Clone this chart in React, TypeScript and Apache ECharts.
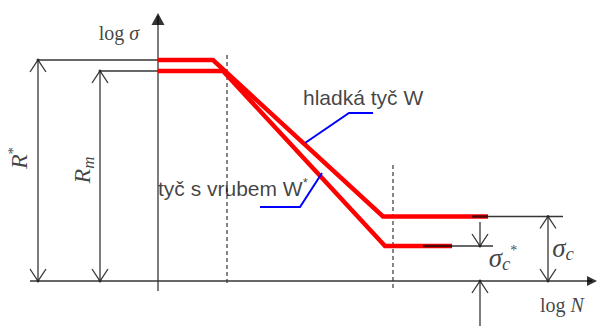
import { useEffect, useRef } from "react";
import * as echarts from "echarts";

// Diagram units: origin at the crossing of the log N and log σ axes.
// Stress levels (log σ)
const R_STAR = 22.1;
const R_M = 21.0;
const SIGMA_C = 6.45;
const SIGMA_C_STAR = 3.5;

// Smooth bar W: static strength R*, fatigue limit σc
const smoothLogN = [0, 5.5, 22.5, 33.0];
const smoothLogS = [R_STAR, R_STAR, SIGMA_C, SIGMA_C];
// Notched bar W*: static strength Rm, fatigue limit σc*
const notchedLogN = [0, 6.5, 22.7, 29.4];
const notchedLogS = [R_M, R_M, SIGMA_C_STAR, SIGMA_C_STAR];

// Positions (log N) of the helper lines
const kneeDashLogN = [6.9, 23.5];
const dimR = -12.0;
const dimRm = -5.8;
const dimSigmaC = 39.0;
const dimSigmaCStar = 32.2;

const curveLabels = ["hladká tyč W", "tyč s vrubem W"];

const X_MIN = -15.8;
const X_MAX = 44.0;
const Y_MIN = -4.5;
const Y_MAX = 28.1;

const INK = "#363636";
const RED = "#ff0000";
const BLUE = "#0000ff";

type Pt = [number, number];

function zip(xs: number[], ys: number[]): Pt[] {
  return xs.map((x, i) => [x, ys[i]] as Pt);
}

function poly(pts: Pt[], color: string, width: number, z = 2, type: any = "solid") {
  return {
    type: "line",
    data: pts,
    symbol: "none",
    silent: true,
    z,
    lineStyle: { color, width, type, cap: "butt", join: "miter" },
  };
}

// open V arrowhead, apex at (x, y); dir = 1 points up, -1 points down
function arrowHead(x: number, y: number, dir: number) {
  return poly(
    [
      [x - 0.8, y - dir * 1.2],
      [x, y],
      [x + 0.8, y - dir * 1.2],
    ],
    INK,
    1.3,
    3
  );
}

function textPoint(x: number, y: number, label: any) {
  return {
    value: [x, y],
    label: { show: true, position: "inside", ...label },
  };
}

export default function App() {
  const ref = useRef<HTMLDivElement>(null);

  useEffect(() => {
    if (!ref.current) return;
    const chart = echarts.init(ref.current, null, { renderer: "svg" });

    const smooth = zip(smoothLogN, smoothLogS);
    const notched = zip(notchedLogN, notchedLogS);

    const serif = "Liberation Serif";
    const sans = "Liberation Sans";
    const TXT = "#111";

    const sigmaRich = {
      s: { fontFamily: serif, fontSize: 27, fontStyle: "italic", color: TXT, lineHeight: 30 },
      c: { fontFamily: serif, fontSize: 19, fontStyle: "italic", color: TXT, verticalAlign: "bottom", lineHeight: 30 },
      a: { fontFamily: serif, fontSize: 14, color: TXT, verticalAlign: "top", lineHeight: 30 },
    };

    const series: any[] = [
      // axes
      poly([[-12.8, 0], [43.4, 0]], INK, 1.3),
      poly([[0, -1.0], [0, 26.5]], INK, 1.3),
      // stress level extension lines
      poly([[dimR, R_STAR], [smoothLogN[1], R_STAR]], INK, 1.3),
      poly([[dimRm, R_M], [notchedLogN[1], R_M]], INK, 1.3),
      poly([[smoothLogN[3] - 2, SIGMA_C], [40.5, SIGMA_C]], INK, 1.3),
      poly([[notchedLogN[3] - 2, SIGMA_C_STAR], [33.5, SIGMA_C_STAR]], INK, 1.3),
      // dimension lines
      poly([[dimR, 0], [dimR, R_STAR]], INK, 1.3),
      poly([[dimRm, 0], [dimRm, R_M]], INK, 1.3),
      poly([[dimSigmaC, 0], [dimSigmaC, SIGMA_C]], INK, 1.3),
      poly([[dimSigmaCStar, SIGMA_C_STAR], [dimSigmaCStar, 5.9]], INK, 1.3),
      poly([[dimSigmaCStar, 0], [dimSigmaCStar, -4.6]], INK, 1.3),
      arrowHead(dimR, R_STAR, 1),
      arrowHead(dimR, 0, -1),
      arrowHead(dimRm, R_M, 1),
      arrowHead(dimRm, 0, -1),
      arrowHead(dimSigmaC, SIGMA_C, 1),
      arrowHead(dimSigmaC, 0, -1),
      arrowHead(dimSigmaCStar, SIGMA_C_STAR, -1),
      arrowHead(dimSigmaCStar, 0, 1),
      // dashed knee markers
      poly([[kneeDashLogN[0], -0.2], [kneeDashLogN[0], 22.9]], INK, 1.2, 2, [4, 3]),
      poly([[kneeDashLogN[1], -0.7], [kneeDashLogN[1], 11.8]], INK, 1.2, 2, [4, 3]),
      // S-N curves
      poly(smooth, RED, 4.5, 5),
      poly(notched, RED, 4.5, 5),
      poly([[31.4, SIGMA_C], [smoothLogN[3], SIGMA_C]], "#4a0808", 2.4, 6),
      poly([[26.5, SIGMA_C_STAR], [notchedLogN[3], SIGMA_C_STAR]], "#4a0808", 2.4, 6),
      // leaders
      poly([[21.5, 16.8], [19.1, 16.8], [14.7, 13.8]], BLUE, 2, 7),
      poly([[10.2, 7.4], [14.2, 7.4], [16.4, 10.8]], BLUE, 2, 7),
      // joint dots
      {
        type: "scatter",
        silent: true,
        z: 4,
        symbolSize: 3,
        itemStyle: { color: "#222" },
        data: [
          [dimR, R_STAR], [dimR, 0], [dimRm, R_M], [dimRm, 0],
          [dimSigmaC, SIGMA_C], [dimSigmaC, 0],
          [dimSigmaCStar, SIGMA_C_STAR], [dimSigmaCStar, 0],
        ],
      },
      // axis arrow tips
      {
        type: "scatter",
        silent: true,
        z: 4,
        symbol: "triangle",
        symbolSize: [13, 12],
        itemStyle: { color: "#000" },
        data: [[0, 26.2]],
      },
      {
        type: "scatter",
        silent: true,
        z: 4,
        symbol: "triangle",
        symbolSize: [10, 10],
        symbolRotate: -90,
        itemStyle: { color: "#000" },
        data: [[43.4, 0]],
      },
      // texts
      {
        type: "scatter",
        silent: true,
        z: 10,
        symbolSize: 1,
        itemStyle: { color: "rgba(0,0,0,0)" },
        data: [
          textPoint(-3.9, 24.8, {
            formatter: "{n|log }{i|σ}",
            rich: {
              n: { fontFamily: serif, fontSize: 20, color: TXT },
              i: { fontFamily: serif, fontSize: 20, fontStyle: "italic", color: TXT },
            },
          }),
          textPoint(40.4, -2.4, {
            formatter: "{n|log }{i|N}",
            rich: {
              n: { fontFamily: serif, fontSize: 20, color: TXT },
              i: { fontFamily: serif, fontSize: 20, fontStyle: "italic", color: TXT },
            },
          }),
          textPoint(14.5, 18.4, {
            formatter: curveLabels[0],
            align: "left",
            fontFamily: sans,
            fontSize: 21,
            color: TXT,
          }),
          textPoint(0.0, 9.3, {
            formatter: "{t|" + curveLabels[1] + "}{s|*}",
            align: "left",
            rich: {
              t: { fontFamily: sans, fontSize: 21, color: TXT, lineHeight: 24 },
              s: { fontFamily: sans, fontSize: 13, color: TXT, verticalAlign: "top", lineHeight: 24 },
            },
          }),
          textPoint(-13.9, 12.3, {
            formatter: "{r|R}{a|*}",
            rotate: 90,
            rich: {
              r: { fontFamily: serif, fontSize: 24, fontStyle: "italic", color: TXT, lineHeight: 28 },
              a: { fontFamily: serif, fontSize: 15, color: TXT, verticalAlign: "top", lineHeight: 28 },
            },
          }),
          textPoint(-7.6, 11.1, {
            formatter: "{r|R}{m|m}",
            rotate: 90,
            rich: {
              r: { fontFamily: serif, fontSize: 24, fontStyle: "italic", color: TXT, lineHeight: 30 },
              m: { fontFamily: serif, fontSize: 17, fontStyle: "italic", color: TXT, verticalAlign: "bottom", lineHeight: 30 },
            },
          }),
          textPoint(40.5, 3.3, { formatter: "{s|σ}{c|c}", rich: sigmaRich }),
          textPoint(34.5, 2.3, { formatter: "{s|σ}{c|c}{a|*}", rich: sigmaRich }),
        ],
      },
    ];

    chart.setOption({
      animation: false,
      backgroundColor: "#ffffff",
      grid: { left: 0, right: 0, top: 0, bottom: 0 },
      xAxis: { type: "value", min: X_MIN, max: X_MAX, show: false },
      yAxis: { type: "value", min: Y_MIN, max: Y_MAX, show: false },
      series,
    });

    return () => chart.dispose();
  }, []);

  return (
    <div
      ref={ref}
      style={{ position: "absolute", left: 0, top: 0, width: 598, height: 326 }}
    />
  );
}
